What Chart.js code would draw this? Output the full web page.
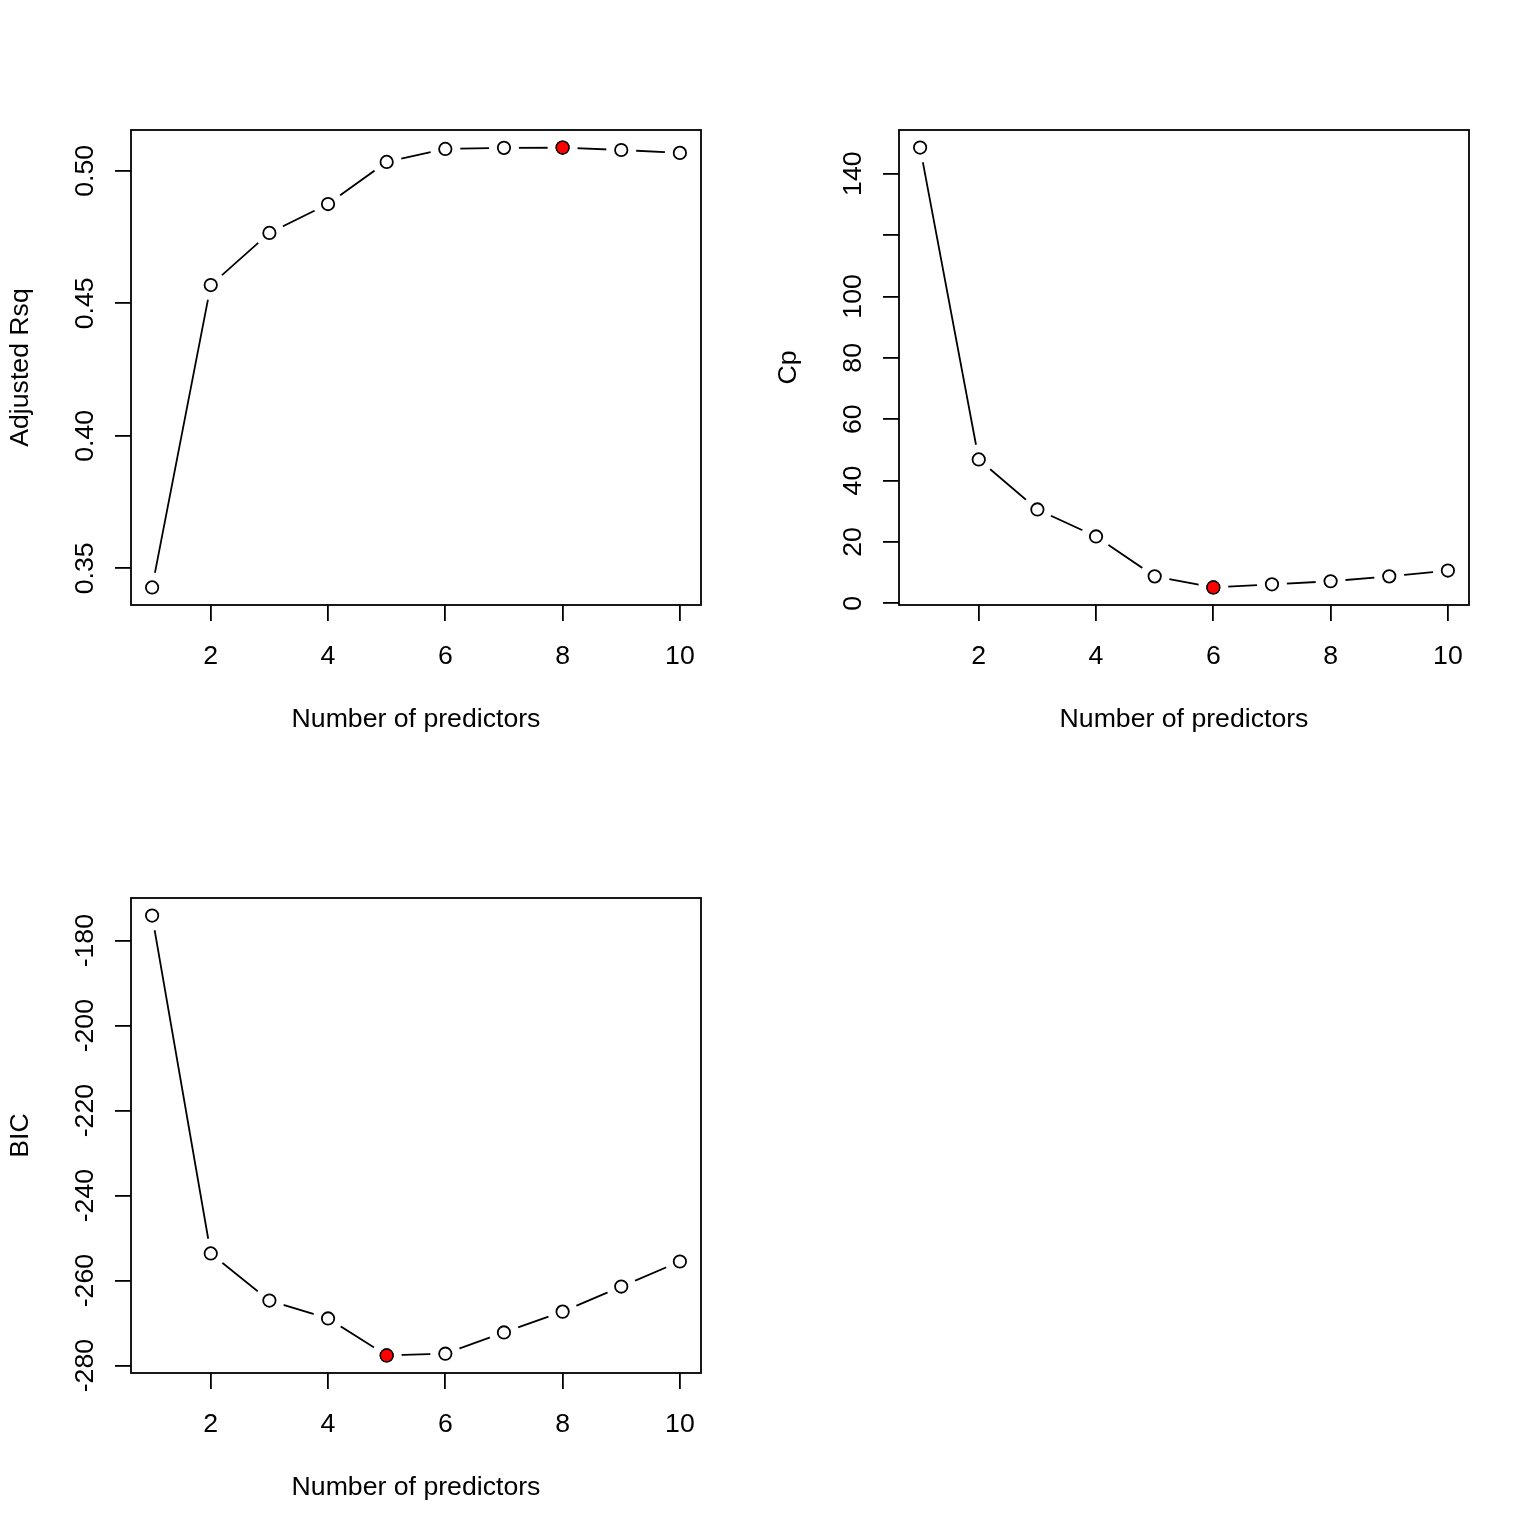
<!DOCTYPE html>
<html><head><meta charset="utf-8">
<script src="https://cdn.jsdelivr.net/npm/chart.js@4"></script>
<style>
html,body{margin:0;padding:0;background:#fff;}
#wrap{position:relative;width:1536px;height:1536px;background:#fff;overflow:hidden;}
.panel{position:absolute;width:768px;height:768px;}
canvas{display:block;}
</style></head><body>
<div id="wrap">
<div class="panel" style="left:0;top:0"><canvas id="c1" width="768" height="768"></canvas></div>
<div class="panel" style="left:768px;top:0"><canvas id="c2" width="768" height="768"></canvas></div>
<div class="panel" style="left:0;top:768px"><canvas id="c3" width="768" height="768"></canvas></div>
</div>
<script>
// ---- data ----
const predictors = [1, 2, 3, 4, 5, 6, 7, 8, 9, 10];
const xTicks = [2, 4, 6, 8, 10];

const adjr2 = [0.3428, 0.4569, 0.4766, 0.4875, 0.5034, 0.5083, 0.5087, 0.5088, 0.5079, 0.5068];
const cp = [148.5, 46.9, 30.6, 21.8, 8.8, 5.2, 6.2, 7.2, 8.8, 10.7];
const bic = [-174.1, -253.6, -264.7, -268.9, -277.6, -277.2, -272.2, -267.3, -261.4, -255.5];

const adjr2Ticks = [0.35, 0.40, 0.45, 0.50];
const adjr2TickLabels = ['0.35', '0.40', '0.45', '0.50'];
const cpTicks = [0, 20, 40, 60, 80, 100, 120, 140];
const cpTickLabels = ['0', '20', '40', '60', '80', '100', '', '140'];
const bicTicks = [-280, -260, -240, -220, -200, -180];
const bicTickLabels = ['-280', '-260', '-240', '-220', '-200', '-180'];

const bestAdjr2 = 8, bestCp = 6, bestBic = 5;

// ---- styling ----
const FONT = "'Liberation Sans', Arial, Helvetica, sans-serif";
const FS = 26.67;
const LW = 1.8;
Chart.defaults.font.family = FONT;

const rBox = {
  id: 'rBox',
  afterDraw(chart, args, opts) {
    const ctx = chart.ctx, a = chart.chartArea, y = chart.scales.y;
    ctx.save();
    ctx.strokeStyle = '#000';
    ctx.lineWidth = LW;
    ctx.strokeRect(a.left, a.top, a.right - a.left, a.bottom - a.top);
    ctx.fillStyle = '#000';
    ctx.font = FS + 'px ' + FONT;
    ctx.textAlign = 'center';
    ctx.textBaseline = 'alphabetic';
    y.ticks.forEach(t => {
      const idx = opts.ticks.indexOf(t.value);
      const lab = idx >= 0 ? opts.labels[idx] : '';
      if (!lab) return;
      const py = y.getPixelForValue(t.value);
      ctx.save();
      ctx.translate(a.left - 38, py);
      ctx.rotate(-Math.PI / 2);
      ctx.fillText(lab, 0, 0);
      ctx.restore();
    });
    ctx.restore();
  }
};

function rRange(vals) {
  const lo = Math.min(...vals), hi = Math.max(...vals), p = (hi - lo) * 0.04;
  return [lo - p, hi + p];
}

function makeChart(id, values, best, yTicks, yLabels, yTitle) {
  const [ymin, ymax] = rRange(values);
  const [xmin, xmax] = rRange(predictors);
  const pts = predictors.map((x, i) => ({x: x, y: values[i]}));
  new Chart(document.getElementById(id), {
    type: 'scatter',
    data: {datasets: [
      {data: [pts[best - 1]], pointRadius: 6.4, pointBackgroundColor: '#ff0000', pointBorderColor: '#000', pointBorderWidth: 1.3, showLine: false},
      {data: pts, pointRadius: 6.2, pointBackgroundColor: 'rgba(0,0,0,0)', pointBorderColor: '#000', pointBorderWidth: LW, showLine: false},
      {data: pts, pointRadius: 15, pointBackgroundColor: '#fff', pointBorderColor: '#fff', pointBorderWidth: 0, showLine: false},
      {data: pts, pointRadius: 0, showLine: true, borderColor: '#000', borderWidth: LW, tension: 0, fill: false}
    ]},
    options: {
      responsive: false, animation: false, devicePixelRatio: 1, events: [],
      layout: {padding: {top: 130, right: 67, left: 0, bottom: 0}},
      plugins: {legend: {display: false}, tooltip: {enabled: false}, rBox: {ticks: yTicks, labels: yLabels}},
      scales: {
        x: {
          type: 'linear', min: xmin, max: xmax,
          afterBuildTicks: s => { s.ticks = xTicks.map(v => ({value: v})); },
          afterFit: s => { s.height = 163; },
          grid: {drawOnChartArea: false, drawTicks: true, tickLength: 16, color: '#000', lineWidth: LW},
          border: {display: false},
          ticks: {color: '#000', font: {family: FONT, size: FS}, padding: 19.5, maxRotation: 0, minRotation: 0, autoSkip: false,
                  callback: v => String(v)},
          title: {display: true, text: 'Number of predictors', color: '#000', font: {family: FONT, size: FS}, padding: {top: 0, bottom: 32.6}}
        },
        y: {
          type: 'linear', min: ymin, max: ymax,
          afterBuildTicks: s => { s.ticks = yTicks.map(v => ({value: v})); },
          afterFit: s => { s.width = 131; },
          grid: {drawOnChartArea: false, drawTicks: true, tickLength: 16, color: '#000', lineWidth: LW},
          border: {display: false},
          ticks: {display: false},
          title: {display: true, text: yTitle, color: '#000', font: {family: FONT, size: FS}, padding: {top: 4.7, bottom: 0}}
        }
      }
    },
    plugins: [rBox]
  });
}

makeChart('c1', adjr2, bestAdjr2, adjr2Ticks, adjr2TickLabels, 'Adjusted Rsq');
makeChart('c2', cp, bestCp, cpTicks, cpTickLabels, 'Cp');
makeChart('c3', bic, bestBic, bicTicks, bicTickLabels, 'BIC');
</script>
</body></html>
